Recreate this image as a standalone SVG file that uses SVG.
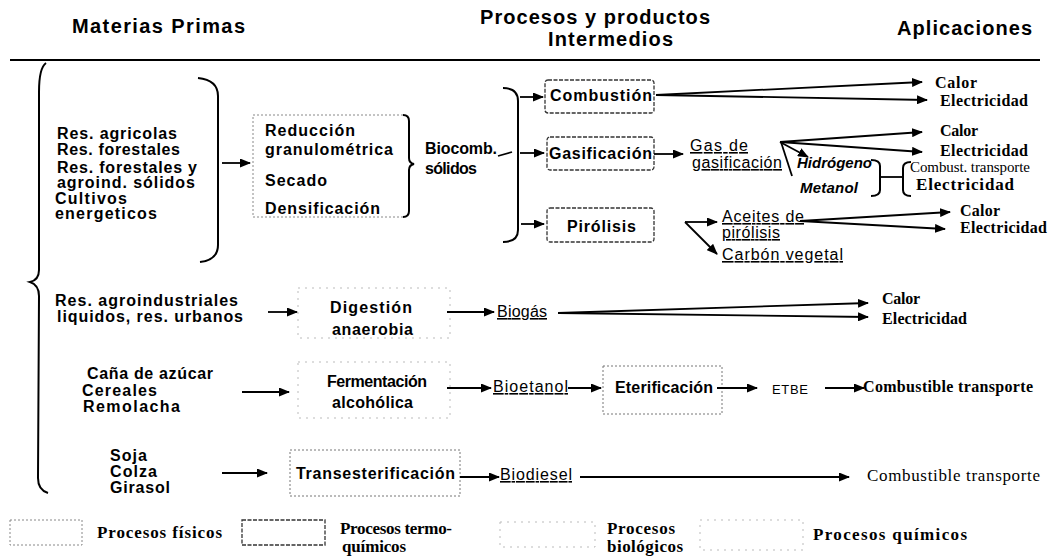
<svg xmlns="http://www.w3.org/2000/svg" width="1061" height="558" viewBox="0 0 1061 558">
<style>
text{fill:#000}
.h{font-family:"Liberation Sans",Arial,sans-serif;font-weight:bold;font-size:20px}
.s{font-family:"Liberation Sans",Arial,sans-serif;font-weight:bold;font-size:16px}
.u{font-family:"Liberation Sans",Arial,sans-serif;font-size:16px;text-decoration:underline}
.i{font-family:"Liberation Sans",Arial,sans-serif;font-weight:bold;font-style:italic;font-size:15px}
.e{font-family:"Liberation Sans",Arial,sans-serif;font-size:13px}
.r{font-family:"Liberation Serif","Times New Roman",serif;font-weight:bold;font-size:16px}
.rl{font-family:"Liberation Serif","Times New Roman",serif;font-weight:bold;font-size:17px}
.rn{font-family:"Liberation Serif","Times New Roman",serif;font-size:15px}
.ln{stroke:#000;stroke-width:1.8;fill:none}
.br{stroke:#000;stroke-width:2;fill:none}
.a{stroke:#000;stroke-width:1.8;fill:none;marker-end:url(#ah)}
.phys{fill:none;stroke:#888;stroke-width:1;stroke-dasharray:2 2}
.thermo{fill:none;stroke:#333;stroke-width:1.3;stroke-dasharray:4 1.5}
.bio{fill:none;stroke:#bbb;stroke-width:1;stroke-dasharray:2 5}
.chem{fill:none;stroke:#777;stroke-width:1;stroke-dasharray:2 2}
</style>
<defs>
<marker id="ah" markerUnits="userSpaceOnUse" markerWidth="11" markerHeight="9" refX="10" refY="4.5" orient="auto">
<path d="M0,0 L11,4.5 L0,9 z" fill="#000"/>
</marker>
</defs>
<rect width="1061" height="558" fill="#fff"/>

<g id="headers">
<text class="h" x="72" y="33" textLength="173" lengthAdjust="spacing">Materias Primas</text>
<text class="h" x="480" y="24" textLength="230" lengthAdjust="spacing">Procesos y productos</text>
<text class="h" x="548" y="46" textLength="125" lengthAdjust="spacing">Intermedios</text>
<text class="h" x="897" y="35" textLength="135" lengthAdjust="spacing">Aplicaciones</text>
<line x1="10" y1="60" x2="1040" y2="60" stroke="#000" stroke-width="2"/>
</g>

<g id="materias">
<path class="br" d="M46 63 Q39 68 39 92 L39 270 Q39 280 30 282 Q39 285 39 296 L38 478 Q38 490 48 493"/>
<path class="br" d="M198 78 Q218 80 218 96 L218 245 Q218 260 200 262"/>
<text class="s" x="57" y="139" textLength="120" lengthAdjust="spacing">Res. agricolas</text>
<text class="s" x="57" y="155" textLength="123" lengthAdjust="spacing">Res. forestales</text>
<text class="s" x="57" y="173" textLength="140" lengthAdjust="spacing">Res. forestales y</text>
<text class="s" x="57" y="188" textLength="138" lengthAdjust="spacing">agroind. sólidos</text>
<text class="s" x="55" y="204" textLength="72" lengthAdjust="spacing">Cultivos</text>
<text class="s" x="55" y="219" textLength="102" lengthAdjust="spacing">energeticos</text>
<text class="s" x="55" y="306" textLength="183" lengthAdjust="spacing">Res. agroindustriales</text>
<text class="s" x="57" y="322" textLength="186" lengthAdjust="spacing">liquidos, res. urbanos</text>
<text class="s" x="87" y="379" textLength="126" lengthAdjust="spacing">Caña de azúcar</text>
<text class="s" x="82" y="396" textLength="75" lengthAdjust="spacing">Cereales</text>
<text class="s" x="83" y="412" textLength="97" lengthAdjust="spacing">Remolacha</text>
<text class="s" x="110" y="461" textLength="37" lengthAdjust="spacing">Soja</text>
<text class="s" x="110" y="477" textLength="47" lengthAdjust="spacing">Colza</text>
<text class="s" x="110" y="493" textLength="60" lengthAdjust="spacing">Girasol</text>
</g>

<g id="reduccion">
<path class="phys" d="M403 115 L253 115 L253 217 L403 217"/>
<path class="br" stroke-width="1.5" d="M403 115 Q409 115 409 121 L409 158 Q409 163 414 164 Q409 165 409 170 L409 211 Q409 217 403 217"/>
<text class="s" x="265" y="136" textLength="90" lengthAdjust="spacing">Reducción</text>
<text class="s" x="265" y="155" textLength="128" lengthAdjust="spacing">granulométrica</text>
<text class="s" x="265" y="186" textLength="62" lengthAdjust="spacing">Secado</text>
<text class="s" x="265" y="214" textLength="115" lengthAdjust="spacing">Densificación</text>
</g>

<g id="biocomb">
<text class="s" x="425" y="154" textLength="72" lengthAdjust="spacing">Biocomb.</text>
<text class="s" x="425" y="174" textLength="52" lengthAdjust="spacing">sólidos</text>
<path class="br" d="M503 88 Q518 88 518 101 L518 230 Q518 242 503 242"/>
</g>

<g id="combustion">
<rect class="thermo" x="545" y="80" width="109" height="33" rx="3"/>
<text class="s" x="550" y="101" textLength="102" lengthAdjust="spacing">Combustión</text>
</g>
<g id="gasificacion">
<rect class="thermo" x="547" y="137" width="107" height="33" rx="3"/>
<text class="s" x="549" y="159" textLength="103" lengthAdjust="spacing">Gasificación</text>
</g>
<g id="pirolisis">
<rect class="thermo" x="547" y="208" width="107" height="34" rx="3"/>
<text class="s" x="567" y="232" textLength="69" lengthAdjust="spacing">Pirólisis</text>
</g>

<g id="gas">
<text class="u" x="690" y="151" textLength="58" lengthAdjust="spacing">Gas de</text>
<text class="u" x="692" y="168" textLength="90" lengthAdjust="spacing">gasificación</text>
</g>
<g id="hidrogeno">
<text class="i" x="797" y="168" textLength="75" lengthAdjust="spacing">Hidrógeno</text>
<text class="i" x="800" y="193" textLength="58" lengthAdjust="spacing">Metanol</text>
<path class="br" stroke-width="1.5" d="M871 160 Q880 160 880 166 L880 190 Q880 196 871 196"/>
<path class="br" stroke-width="1.5" d="M911 162 Q903 162 903 168 L903 190 Q903 196 911 196"/>
</g>
<g id="aceites">
<text class="u" x="722" y="222" textLength="82" lengthAdjust="spacing">Aceites de</text>
<text class="u" x="722" y="238" textLength="58" lengthAdjust="spacing">pirólisis</text>
</g>
<g id="carbon">
<text class="u" x="722" y="260" textLength="121" lengthAdjust="spacing">Carbón vegetal</text>
</g>

<g id="digestion">
<rect class="bio" x="298" y="288" width="152" height="50"/>
<text class="s" x="330" y="313" textLength="82" lengthAdjust="spacing">Digestión</text>
<text class="s" x="332" y="335" textLength="81" lengthAdjust="spacing">anaerobia</text>
</g>
<g id="biogas">
<text class="u" x="497" y="317" textLength="50" lengthAdjust="spacing">Biogás</text>
</g>
<g id="fermentacion">
<rect class="bio" x="298" y="362" width="152" height="56"/>
<text class="s" x="327" y="387" textLength="100" lengthAdjust="spacing">Fermentación</text>
<text class="s" x="332" y="408" textLength="81" lengthAdjust="spacing">alcohólica</text>
</g>
<g id="bioetanol">
<text class="u" x="493" y="392" textLength="75" lengthAdjust="spacing">Bioetanol</text>
</g>
<g id="eterificacion">
<rect class="chem" x="603" y="366" width="119" height="48"/>
<text class="s" x="615" y="393" textLength="98" lengthAdjust="spacing">Eterificación</text>
</g>
<g id="etbe">
<text class="e" x="772" y="394" textLength="36" lengthAdjust="spacing">ETBE</text>
</g>
<g id="transesterificacion">
<rect class="chem" x="290" y="450" width="170" height="46"/>
<text class="s" x="296" y="479" textLength="159" lengthAdjust="spacing">Transesterificación</text>
</g>
<g id="biodiesel">
<text class="u" x="500" y="480" textLength="72" lengthAdjust="spacing">Biodiesel</text>
</g>

<g id="aplicaciones">
<text class="r" x="935" y="88" textLength="42" lengthAdjust="spacing">Calor</text>
<text class="r" x="940" y="106" textLength="88" lengthAdjust="spacing">Electricidad</text>
<text class="r" x="940" y="136" textLength="38" lengthAdjust="spacing">Calor</text>
<text class="r" x="940" y="156" textLength="88" lengthAdjust="spacing">Electricidad</text>
<text class="rn" x="910" y="172" textLength="120" lengthAdjust="spacing">Combust. transporte</text>
<text class="rl" x="916" y="190" textLength="98" lengthAdjust="spacing">Electricidad</text>
<text class="r" x="960" y="216" textLength="40" lengthAdjust="spacing">Calor</text>
<text class="r" x="960" y="233" textLength="87" lengthAdjust="spacing">Electricidad</text>
<text class="r" x="882" y="304" textLength="38" lengthAdjust="spacing">Calor</text>
<text class="r" x="882" y="324" textLength="85" lengthAdjust="spacing">Electricidad</text>
<text class="r" x="863" y="392" textLength="170" lengthAdjust="spacing">Combustible transporte</text>
<text class="rn" x="867" y="481" style="font-size:17px" textLength="173" lengthAdjust="spacing">Combustible transporte</text>
</g>

<g id="connectors">
<line class="a" x1="222" y1="163" x2="250" y2="163"/>
<path class="ln" d="M498 156 L512 152"/>
<line class="a" x1="520" y1="97" x2="543" y2="97"/>
<line class="a" x1="520" y1="153" x2="544" y2="153"/>
<line class="a" x1="521" y1="224" x2="544" y2="224"/>
<line class="a" x1="656" y1="95" x2="922" y2="82"/>
<line class="a" x1="656" y1="95" x2="927" y2="100"/>
<line class="a" x1="654" y1="154" x2="683" y2="154"/>
<line class="a" x1="780" y1="142" x2="922" y2="132"/>
<line class="a" x1="780" y1="142" x2="922" y2="152"/>
<line class="a" x1="780" y1="142" x2="808" y2="157"/>
<line class="ln" x1="781" y1="142" x2="792" y2="176"/>
<line class="ln" x1="880" y1="177" x2="903" y2="177"/>
<line class="a" x1="685" y1="222" x2="717" y2="222"/>
<line class="a" x1="685" y1="222" x2="717" y2="254"/>
<line class="a" x1="800" y1="221" x2="950" y2="212"/>
<line class="a" x1="800" y1="221" x2="945" y2="229"/>
<line class="a" x1="268" y1="312" x2="297" y2="312"/>
<line class="a" x1="447" y1="312" x2="494" y2="312"/>
<line class="a" x1="558" y1="313" x2="868" y2="303"/>
<line class="a" x1="558" y1="313" x2="868" y2="317"/>
<line class="a" x1="242" y1="392" x2="289" y2="392"/>
<line class="a" x1="447" y1="388" x2="491" y2="388"/>
<line class="a" x1="568" y1="388" x2="601" y2="388"/>
<line class="a" x1="717" y1="388" x2="757" y2="388"/>
<line class="a" x1="825" y1="388" x2="864" y2="388"/>
<line class="a" x1="222" y1="473" x2="267" y2="473"/>
<line class="a" x1="460" y1="477" x2="499" y2="477"/>
<line class="a" x1="580" y1="477" x2="849" y2="477"/>
</g>

<g id="legend">
<rect class="phys" x="10" y="520" width="72" height="25"/>
<text class="rl" x="97" y="538" textLength="125" lengthAdjust="spacing">Procesos físicos</text>
<rect class="thermo" x="242" y="520" width="83" height="25"/>
<text class="rl" x="340" y="534" textLength="112" lengthAdjust="spacing">Procesos termo-</text>
<text class="rl" x="342" y="552" textLength="64" lengthAdjust="spacing">químicos</text>
<rect class="bio" x="500" y="522" width="95" height="25"/>
<text class="rl" x="607" y="534" textLength="68" lengthAdjust="spacing">Procesos</text>
<text class="rl" x="607" y="552" textLength="76" lengthAdjust="spacing">biológicos</text>
<rect class="bio" x="700" y="520" width="103" height="30"/>
<text class="rl" x="813" y="540" textLength="154" lengthAdjust="spacing">Procesos químicos</text>
</g>
</svg>
